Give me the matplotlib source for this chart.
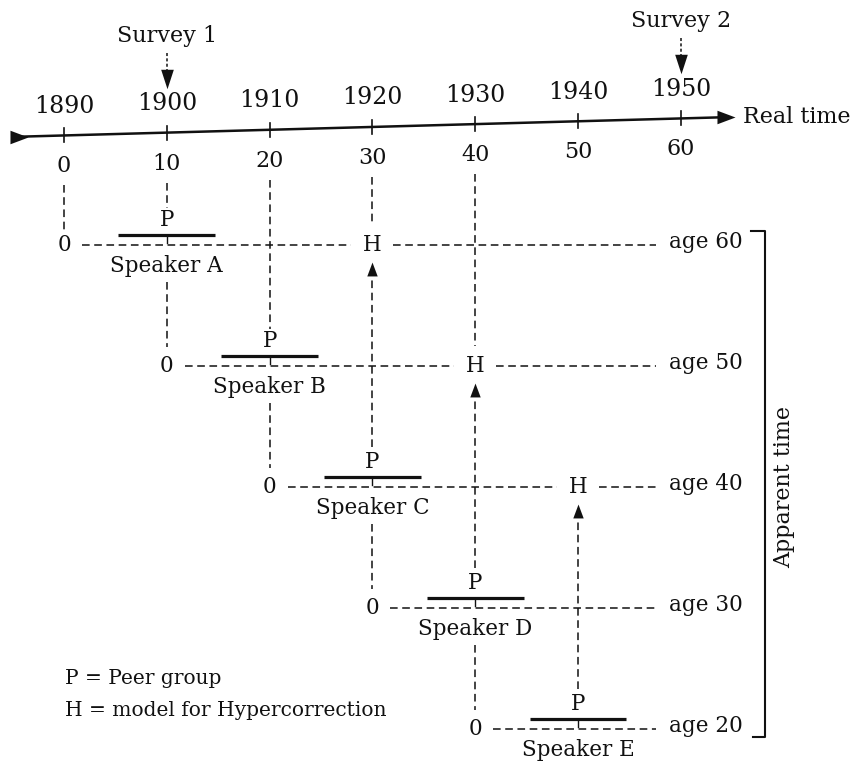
import matplotlib
matplotlib.use('Agg')
import matplotlib.pyplot as plt

# real-time axis
years = [1890, 1900, 1910, 1920, 1930, 1940, 1950]
elapsed = [0, 10, 20, 30, 40, 50, 60]

# speakers and their life lines
speakers = ['Speaker A', 'Speaker B', 'Speaker C', 'Speaker D', 'Speaker E']
birth_years = [1890, 1900, 1910, 1920, 1930]
row_ages = [60, 50, 40, 30, 20]
peer_age = 10
hyper_age = 30

survey_labels = ['Survey 1', 'Survey 2']
survey_years = [1900, 1950]

legend_lines = ['P = Peer group', 'H = model for Hypercorrection']

plt.rcParams['font.family'] = ['DejaVu Serif']
INK = '#111111'

# pixel scale of the data units
PX_X = 10.28   # px per year
PX_Y = 12.1    # px per age unit

# arrow heads
HEAD_DOWN = [(-0.65, 1), (0.65, 1), (0, -1)]
HEAD_UP = [(-0.75, -1), (0.75, -1), (0, 1)]
HEAD_RIGHT = [(-1, -0.75), (-1, 0.75), (1, 0)]


def dx(px):
    return px / PX_X


def dy(px):
    return px / PX_Y


def axis_age(yr):
    # the real-time axis is slightly tilted in the scan
    return 68.93 + 0.02344 * (yr - 1884.75)


fig = plt.figure(figsize=(8.55, 7.62), dpi=100)
ax = fig.add_axes([0, 0, 1, 1])
ax.set_xlim(1890 - dx(64), 1890 + dx(855 - 64))
ax.set_ylim(60 - dy(762 - 245), 60 + dy(245))
ax.axis('off')

dash = dict(color=INK, lw=1.1, linestyle=(0, (5, 3)))
fs = 15.5

# ---- real-time axis
x0 = years[0] - dx(54)
x1 = years[0] + dx(671)
ax.plot([x0 + dx(6), x1 - dx(6)], [axis_age(x0 + dx(6)), axis_age(x1 - dx(6))],
        color=INK, lw=1.8, solid_capstyle='butt')
ax.plot([x0 + dx(9)], [axis_age(x0 + dx(9))], marker=HEAD_RIGHT, ms=13, color=INK, mew=0)
ax.plot([x1 - dx(9)], [axis_age(x1 - dx(9))], marker=HEAD_RIGHT, ms=13, color=INK, mew=0)
for yr, e in zip(years, elapsed):
    a = axis_age(yr)
    ax.plot([yr, yr], [a - dy(7), a + dy(7)], color=INK, lw=1.2)
    ax.text(yr, a + dy(29), str(yr), ha='center', va='center', fontsize=17, color=INK)
    ax.text(yr, a - dy(31), str(e), ha='center', va='center', fontsize=16, color=INK)
ax.text(x1 + dx(8), axis_age(x1), 'Real time', ha='left', va='center',
        fontsize=16, color=INK)

# ---- surveys
for lab, yr in zip(survey_labels, survey_years):
    a = axis_age(yr)
    ax.text(yr, a + dy(97), lab, ha='center', va='center', fontsize=16, color=INK)
    ax.plot([yr, yr], [a + dy(80), a + dy(62)], color=INK, lw=1.1,
            linestyle=(0, (2, 1.5)))
    ax.plot([yr], [a + dy(54)], marker=HEAD_DOWN, ms=14, color=INK, mew=0)

# ---- speaker rows
line_end = 1890 + dx(656 - 64)
age_x = 1890 + dx(669 - 64)
n = len(speakers)
for i, (lab, b, age) in enumerate(zip(speakers, birth_years, row_ages)):
    p_year = b + peer_age
    ax.text(b, age, '0', ha='center', va='center', fontsize=fs, color=INK)
    ax.text(age_x, age + dy(3), f'age {age}', ha='left', va='center', fontsize=fs, color=INK)
    start = b + dx(18)
    if i + 2 < n:
        h_year = b + hyper_age
        ax.text(h_year, age, 'H', ha='center', va='center', fontsize=fs, color=INK)
        ax.plot([start, h_year - dx(21)], [age, age], **dash)
        ax.plot([h_year + dx(21), line_end], [age, age], **dash)
    else:
        ax.plot([start, line_end], [age, age], **dash)
    # peer group bar
    ax.plot([p_year - 4.7, p_year + 4.7], [age + dy(10)] * 2, color=INK, lw=2.3,
            solid_capstyle='butt')
    ax.plot([p_year, p_year], [age + dy(10), age + dy(2)], color=INK, lw=1.0)
    ax.text(p_year, age + dy(25), 'P', ha='center', va='center', fontsize=fs, color=INK)
    ax.text(p_year, age - dy(21), lab, ha='center', va='center', fontsize=fs, color=INK)
    # life line down to the next speaker's birth
    if i + 1 < n:
        ax.plot([p_year, p_year], [age - dy(37), row_ages[i + 1] + dy(19)], **dash)
    # hypercorrection arrow from the younger speaker's peer group
    if i + 2 < n:
        h_year = b + hyper_age
        ax.plot([h_year, h_year], [row_ages[i + 2] + dy(40), age - dy(26)], **dash)
        ax.plot([h_year], [age - dy(24)], marker=HEAD_UP, ms=10, color=INK, mew=0)

# ---- connectors from the real-time axis to the first mark in each birth column
for yr in years:
    if yr not in birth_years:
        continue
    marks = []
    for i, (b, age) in enumerate(zip(birth_years, row_ages)):
        if b == yr:
            marks.append(age + dy(14))
        if b + peer_age == yr:
            marks.append(age + dy(37))
        if i + 2 < n and b + hyper_age == yr:
            marks.append(age + dy(20))
    ax.plot([yr, yr], [axis_age(yr) - dy(50), max(marks)], **dash)

# ---- apparent time bracket
xb = 1890 + dx(765 - 64)
top = row_ages[0] + dy(14)
bot = row_ages[-1] - dy(8)
ax.plot([xb - dx(14), xb, xb, xb - dx(12)], [top, top, bot, bot], color=INK, lw=1.5)
ax.text(xb + dx(19), 40, 'Apparent time', rotation=90, ha='center', va='center',
        fontsize=16, color=INK)

# ---- key
ax.text(1890 + dx(1), row_ages[-1] + dy(50), legend_lines[0], ha='left', va='center',
        fontsize=14.5, color=INK)
ax.text(1890 + dx(1), row_ages[-1] + dy(19), legend_lines[1], ha='left', va='center',
        fontsize=14.5, color=INK)

fig.savefig('out.png', dpi=100)
